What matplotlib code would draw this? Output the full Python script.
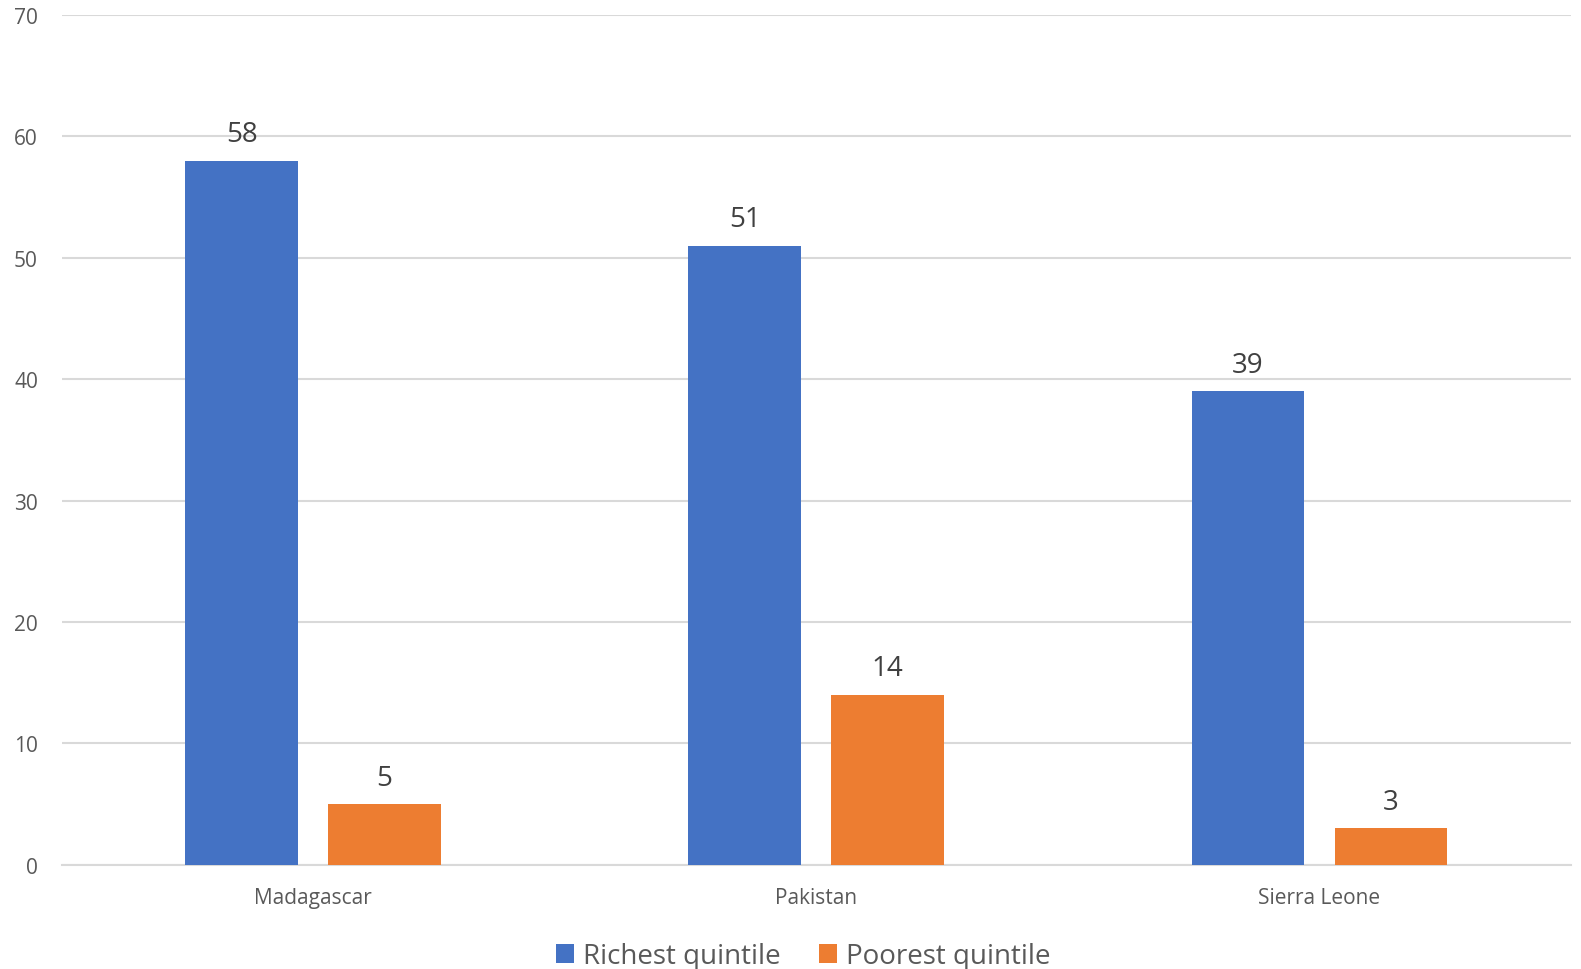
import matplotlib.pyplot as plt
import numpy as np

countries = ["Madagascar", "Pakistan", "Sierra Leone"]
richest = [58, 51, 39]
poorest = [5, 14, 3]
series_names = ["Richest quintile", "Poorest quintile"]

plt.rcParams['font.family'] = ['Open Sans', 'DejaVu Sans']
text_col = '#595959'

fig = plt.figure(figsize=(15.81, 9.70), dpi=100)
ax = fig.add_axes([0.0389, 0.1075, 0.9548, 0.8759])

x = np.arange(len(countries))
w = 0.224
off = 0.142
b1 = ax.bar(x - off, richest, w, color='#4472C4', label=series_names[0], zorder=3)
b2 = ax.bar(x + off, poorest, w, color='#ED7D31', label=series_names[1], zorder=3)

# value labels above each bar
for bars in (b1, b2):
    ax.bar_label(bars, padding=9, fontsize=20, color='#404040')

ax.set_xlim(-0.5, 2.5)
ax.set_ylim(0, 70)
ax.set_yticks(range(0, 71, 10))
ax.set_xticks(x)
ax.set_xticklabels(countries)
ax.yaxis.grid(True, color='#D9D9D9', lw=1.5, zorder=0)
for s in ['top', 'right', 'left']:
    ax.spines[s].set_visible(False)
ax.spines['bottom'].set_color('#D9D9D9')
ax.spines['bottom'].set_linewidth(1.5)
ax.tick_params(axis='both', length=0, labelsize=15, colors=text_col)
ax.tick_params(axis='x', pad=16)
ax.tick_params(axis='y', pad=17)

fig.legend(loc='center', bbox_to_anchor=(0.508, 0.013), ncol=2, frameon=False,
           fontsize=20, labelcolor=text_col, handlelength=0.65, handleheight=0.65,
           handletextpad=0.3, columnspacing=1.4)

fig.savefig('out.png', dpi=100)
